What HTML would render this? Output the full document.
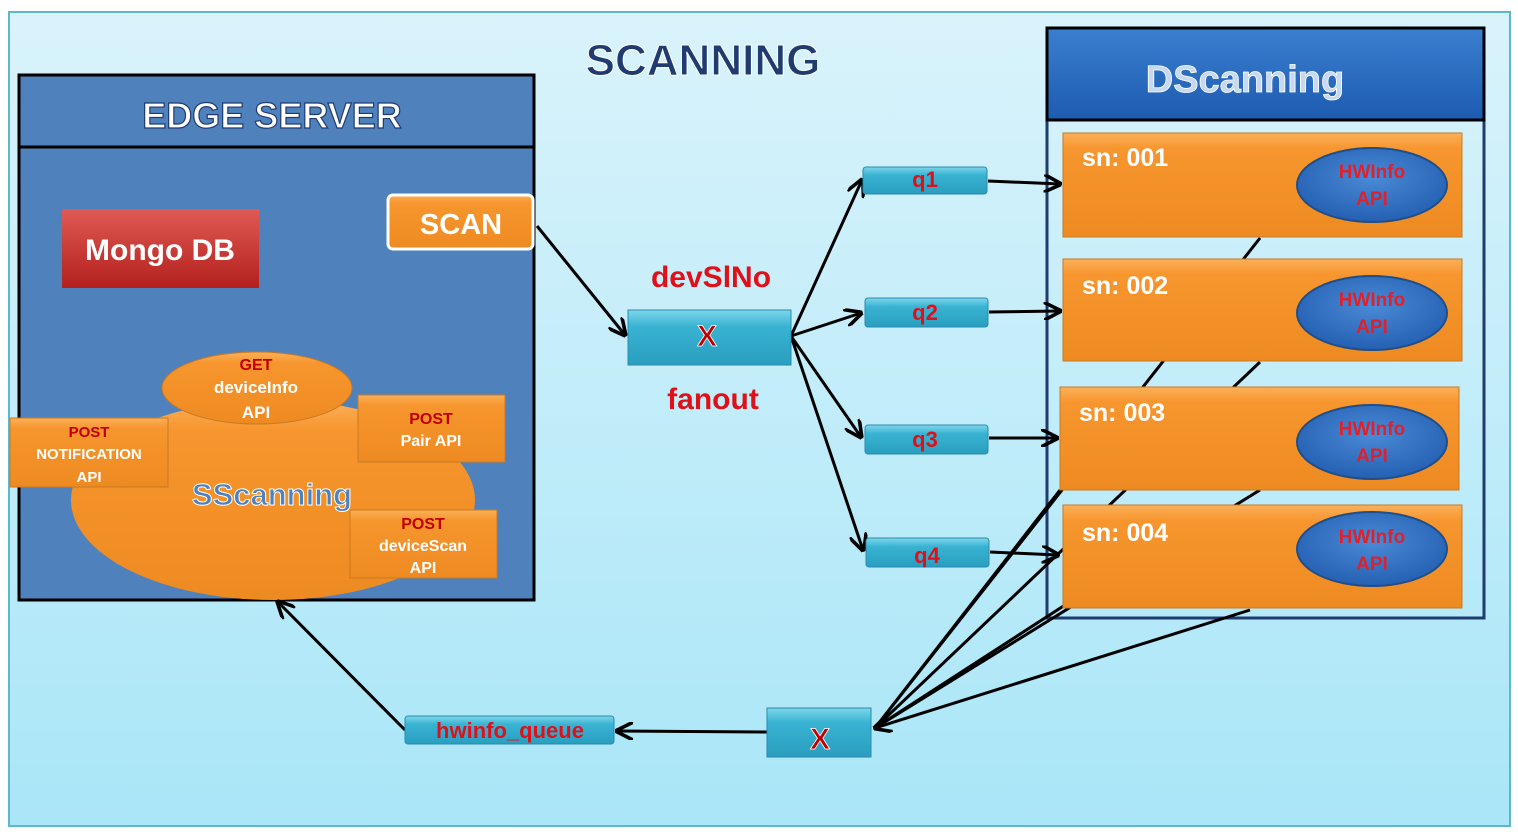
<!DOCTYPE html>
<html><head><meta charset="utf-8"><style>
html,body{margin:0;padding:0;background:#fff;}
svg{display:block;font-family:"Liberation Sans",sans-serif;font-weight:bold;}
</style></head><body>
<svg width="1518" height="837" viewBox="0 0 1518 837" xmlns="http://www.w3.org/2000/svg">
<defs>
<linearGradient id="bg" x1="0" y1="0" x2="0" y2="1"><stop offset="0" stop-color="#d9f3fb"/><stop offset="1" stop-color="#a9e6f8"/></linearGradient>
<linearGradient id="or" x1="0" y1="0" x2="0" y2="1"><stop offset="0" stop-color="#fbb05a"/><stop offset="0.15" stop-color="#f7962e"/><stop offset="1" stop-color="#ee8a22"/></linearGradient>
<linearGradient id="cy" x1="0" y1="0" x2="0" y2="1"><stop offset="0" stop-color="#7fd6ea"/><stop offset="0.3" stop-color="#39b3d3"/><stop offset="1" stop-color="#2a9ebf"/></linearGradient>
<linearGradient id="bl" x1="0" y1="0" x2="0" y2="1"><stop offset="0" stop-color="#3b7fd0"/><stop offset="1" stop-color="#1d5bb0"/></linearGradient>
<linearGradient id="rd" x1="0" y1="0" x2="0" y2="1"><stop offset="0" stop-color="#e05a55"/><stop offset="1" stop-color="#b3201d"/></linearGradient>
<radialGradient id="el" cx="0.5" cy="0.4" r="0.6"><stop offset="0" stop-color="#4a8ad6"/><stop offset="1" stop-color="#2560b2"/></radialGradient>
<marker id="ar" viewBox="0 0 10 10" refX="9" refY="5" markerWidth="6" markerHeight="6" orient="auto"><path d="M0,0 L10,5 L0,10" fill="none" stroke="#000" stroke-width="2"/></marker>
</defs>
<rect x="9" y="12" width="1501" height="814" fill="url(#bg)" stroke="#5fb8c8" stroke-width="2"/>
<text x="703" y="75" font-size="44" fill="#1f3b70" stroke="#fff" stroke-width="1" text-anchor="middle">SCANNING</text>

<!-- edge server -->
<rect x="19" y="75" width="515" height="525" fill="#4f81bd" stroke="#000" stroke-width="3"/>
<line x1="19" y1="147" x2="534" y2="147" stroke="#000" stroke-width="3"/>
<text x="272" y="128" font-size="36" fill="#fff" stroke="#1f3b70" stroke-width="1.2" text-anchor="middle">EDGE SERVER</text>
<rect x="62" y="209" width="197" height="79" fill="url(#rd)"/>
<text x="160" y="260" font-size="30" fill="#fff" text-anchor="middle">Mongo DB</text>
<rect x="388" y="195" width="145" height="54" rx="5" fill="url(#or)" stroke="#fff" stroke-width="3"/>
<text x="461" y="234" font-size="29" fill="#fff" text-anchor="middle">SCAN</text>

<ellipse cx="273" cy="500" rx="202" ry="100" fill="url(#or)"/>
<ellipse cx="257" cy="388" rx="95" ry="36" fill="url(#or)" stroke="#c87a22"/>
<text x="256" y="370" font-size="16" fill="#c00000" text-anchor="middle">GET</text>
<text x="256" y="393" font-size="17" fill="#fff" text-anchor="middle">deviceInfo</text>
<text x="256" y="418" font-size="17" fill="#fff" text-anchor="middle">API</text>
<rect x="10" y="418" width="158" height="69" fill="url(#or)" stroke="#c87a22"/>
<text x="89" y="437" font-size="15" fill="#c00000" text-anchor="middle">POST</text>
<text x="89" y="459" font-size="15" fill="#fff" text-anchor="middle">NOTIFICATION</text>
<text x="89" y="482" font-size="15" fill="#fff" text-anchor="middle">API</text>
<rect x="358" y="395" width="147" height="67" fill="url(#or)" stroke="#c87a22"/>
<text x="431" y="424" font-size="16" fill="#c00000" text-anchor="middle">POST</text>
<text x="431" y="446" font-size="16" fill="#fff" text-anchor="middle">Pair API</text>
<rect x="350" y="510" width="147" height="68" fill="url(#or)" stroke="#c87a22"/>
<text x="423" y="529" font-size="16" fill="#c00000" text-anchor="middle">POST</text>
<text x="423" y="551" font-size="16" fill="#fff" text-anchor="middle">deviceScan</text>
<text x="423" y="573" font-size="16" fill="#fff" text-anchor="middle">API</text>
<text x="272" y="505" font-size="31" fill="#4f81bd" stroke="#fff" stroke-width="1" text-anchor="middle">SScanning</text>

<!-- DScanning -->
<rect x="1047" y="28" width="437" height="590" fill="none" stroke="#1f3b70" stroke-width="3"/>
<line x1="1260" y1="238" x2="875" y2="728" stroke="#000" stroke-width="3"/>
<line x1="1260" y1="362" x2="875" y2="728" stroke="#000" stroke-width="3"/>
<line x1="1260" y1="490" x2="875" y2="728" stroke="#000" stroke-width="3"/>
<line x1="1250" y1="610" x2="875" y2="728" stroke="#000" stroke-width="3" marker-end="url(#ar)"/>
<line x1="1060" y1="490" x2="875" y2="728" stroke="#000" stroke-width="3"/>
<line x1="1065" y1="605" x2="875" y2="728" stroke="#000" stroke-width="3"/>
<rect x="1047" y="28" width="437" height="92" fill="url(#bl)" stroke="#000" stroke-width="3"/>
<text x="1245" y="92" font-size="38" fill="#c6d9f1" stroke="#fff" stroke-width="0.8" text-anchor="middle">DScanning</text>

<g>
<rect x="1063" y="133" width="399" height="104" fill="url(#or)" stroke="#c87a22"/>
<text x="1082" y="166" font-size="25" fill="#fff">sn: 001</text>
<ellipse cx="1372" cy="185" rx="75" ry="37" fill="url(#el)" stroke="#1f4e8a" stroke-width="2"/>
<text x="1372" y="178" font-size="19" fill="#e0202a" text-anchor="middle">HWInfo</text>
<text x="1372" y="205" font-size="19" fill="#e0202a" text-anchor="middle">API</text>
</g>
<g>
<rect x="1063" y="259" width="399" height="102" fill="url(#or)" stroke="#c87a22"/>
<text x="1082" y="294" font-size="25" fill="#fff">sn: 002</text>
<ellipse cx="1372" cy="313" rx="75" ry="37" fill="url(#el)" stroke="#1f4e8a" stroke-width="2"/>
<text x="1372" y="306" font-size="19" fill="#e0202a" text-anchor="middle">HWInfo</text>
<text x="1372" y="333" font-size="19" fill="#e0202a" text-anchor="middle">API</text>
</g>
<g>
<rect x="1060" y="387" width="399" height="103" fill="url(#or)" stroke="#c87a22"/>
<text x="1079" y="421" font-size="25" fill="#fff">sn: 003</text>
<ellipse cx="1372" cy="442" rx="75" ry="37" fill="url(#el)" stroke="#1f4e8a" stroke-width="2"/>
<text x="1372" y="435" font-size="19" fill="#e0202a" text-anchor="middle">HWInfo</text>
<text x="1372" y="462" font-size="19" fill="#e0202a" text-anchor="middle">API</text>
</g>
<g>
<rect x="1063" y="505" width="399" height="103" fill="url(#or)" stroke="#c87a22"/>
<text x="1082" y="541" font-size="25" fill="#fff">sn: 004</text>
<ellipse cx="1372" cy="549" rx="75" ry="37" fill="url(#el)" stroke="#1f4e8a" stroke-width="2"/>
<text x="1372" y="543" font-size="19" fill="#e0202a" text-anchor="middle">HWInfo</text>
<text x="1372" y="570" font-size="19" fill="#e0202a" text-anchor="middle">API</text>
</g>

<!-- arrows -->
<g stroke="#000" stroke-width="3" fill="none" marker-end="url(#ar)">
<line x1="537" y1="226" x2="625" y2="335"/>
<line x1="791" y1="336" x2="862" y2="180"/>
<line x1="791" y1="336" x2="861" y2="313"/>
<line x1="791" y1="336" x2="861" y2="437"/>
<line x1="791" y1="336" x2="863" y2="550"/>
<line x1="988" y1="181" x2="1060" y2="184"/>
<line x1="989" y1="312" x2="1060" y2="311"/>
<line x1="989" y1="438" x2="1057" y2="438"/>
<line x1="990" y1="552" x2="1058" y2="555"/>
<line x1="767" y1="732" x2="617" y2="731"/>
<line x1="405" y1="730" x2="278" y2="602"/>
</g>

<!-- exchange & queues -->
<rect x="628" y="310" width="163" height="55" fill="url(#cy)" stroke="#2a8ab0"/>
<text x="707" y="346" font-size="30" fill="#c00000" stroke="#fff" stroke-width="0.8" text-anchor="middle">X</text>
<text x="711" y="287" font-size="30" fill="#e0101a" text-anchor="middle">devSlNo</text>
<text x="713" y="409" font-size="30" fill="#e0101a" text-anchor="middle">fanout</text>
<rect x="767" y="708" width="104" height="49" fill="url(#cy)" stroke="#2a8ab0"/>
<text x="820" y="749" font-size="30" fill="#c00000" stroke="#fff" stroke-width="0.8" text-anchor="middle">X</text>
<g font-size="22" fill="#e0101a" text-anchor="middle">
<rect x="863" y="167" width="124" height="27" rx="3" fill="url(#cy)" stroke="#2a8ab0"/><text x="925" y="187">q1</text>
<rect x="865" y="298" width="123" height="29" rx="3" fill="url(#cy)" stroke="#2a8ab0"/><text x="925" y="320">q2</text>
<rect x="865" y="425" width="123" height="29" rx="3" fill="url(#cy)" stroke="#2a8ab0"/><text x="925" y="447">q3</text>
<rect x="866" y="538" width="123" height="29" rx="3" fill="url(#cy)" stroke="#2a8ab0"/><text x="927" y="563">q4</text>
<rect x="405" y="716" width="209" height="28" rx="3" fill="url(#cy)" stroke="#2a8ab0"/><text x="510" y="738">hwinfo_queue</text>
</g>
</svg>
</body></html>
